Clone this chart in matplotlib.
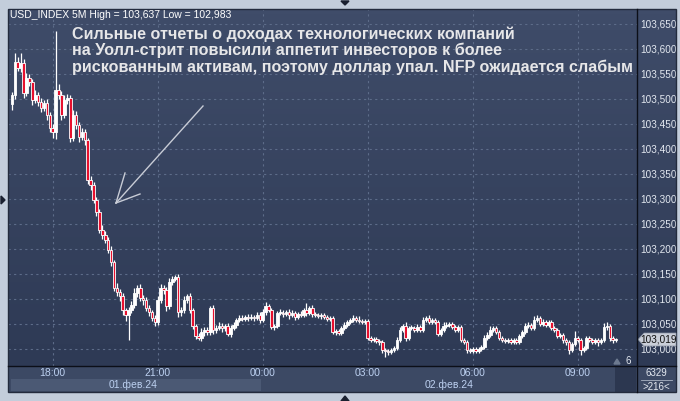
import matplotlib
matplotlib.use("Agg")
import matplotlib.pyplot as plt
from matplotlib.colors import LinearSegmentedColormap
from matplotlib.lines import Line2D
from matplotlib.patches import Polygon, Rectangle
import numpy as np
import pandas as pd

# USD_INDEX 5M closes, 01.02.24 16:50 -> 02.02.24 10:05
closes = [
    103.508, 103.575, 103.563, 103.572, 103.512, 103.543, 103.535, 103.499, 103.509, 103.495,
    103.483, 103.493, 103.469, 103.443, 103.435, 103.519, 103.509, 103.469, 103.499, 103.503,
    103.423, 103.469, 103.449, 103.425, 103.435, 103.419, 103.339, 103.329, 103.299, 103.275,
    103.239, 103.229, 103.219, 103.199, 103.175, 103.123, 103.115, 103.107, 103.079, 103.069,
    103.079, 103.089, 103.113, 103.123, 103.103, 103.099, 103.083, 103.075, 103.063, 103.055,
    103.099, 103.123, 103.119, 103.087, 103.135, 103.141, 103.145, 103.075, 103.079, 103.099,
    103.107, 103.079, 103.047, 103.027, 103.023, 103.035, 103.039, 103.035, 103.083, 103.039,
    103.043, 103.047, 103.043, 103.047, 103.031, 103.043, 103.049, 103.059, 103.063, 103.061,
    103.065, 103.063, 103.065, 103.063, 103.069, 103.059, 103.075, 103.087, 103.079, 103.045,
    103.047, 103.073, 103.073, 103.071, 103.075, 103.069, 103.073, 103.065, 103.071, 103.069,
    103.079, 103.073, 103.083, 103.071, 103.069, 103.067, 103.069, 103.065, 103.061, 103.063,
    103.035, 103.037, 103.033, 103.043, 103.049, 103.055, 103.059, 103.063, 103.059, 103.057,
    103.055, 103.057, 103.023, 103.019, 103.021, 103.017, 103.015, 102.999, 102.997, 102.995,
    102.999, 103.003, 103.019, 103.039, 103.047, 103.023, 103.043, 103.043, 103.039, 103.045,
    103.039, 103.059, 103.063, 103.055, 103.059, 103.055, 103.031, 103.039, 103.047, 103.049,
    103.051, 103.045, 103.039, 103.045, 103.019, 103.015, 102.999, 102.997, 103.001, 102.997,
    103.001, 103.005, 103.023, 103.029, 103.039, 103.043, 103.035, 103.023, 103.019, 103.017,
    103.019, 103.015, 103.019, 103.015, 103.027, 103.035, 103.047, 103.049, 103.043, 103.059,
    103.063, 103.051, 103.055, 103.049, 103.055, 103.043, 103.039, 103.027, 103.029, 103.019,
    103.015, 102.999, 103.011, 103.023, 103.019, 102.999, 103.003, 103.023, 103.019, 103.015,
    103.019, 103.015, 103.019, 103.045, 103.047, 103.023, 103.019, 103.019,
]
first_open = 103.490

# wick lengths in thousandths above / below the body
upper_wick = [
    6, 18, 10, 20, 8, 10, 8, 6, 10, 6,
    8, 6, 8, 6, 8, 118, 12, 8, 10, 8,
    6, 10, 8, 6, 8, 6, 4, 8, 6, 6,
    6, 10, 8, 6, 8, 4, 10, 6, 6, 4,
    6, 8, 10, 6, 8, 6, 6, 6, 4, 6,
    8, 8, 6, 6, 8, 6, 4, 6, 6, 8,
    4, 6, 4, 4, 6, 8, 6, 6, 4, 6,
    6, 8, 6, 4, 6, 6, 6, 4, 6, 6,
    4, 6, 6, 4, 6, 6, 6, 8, 4, 4,
    4, 4, 8, 6, 4, 6, 6, 4, 4, 6,
    4, 14, 4, 6, 4, 4, 4, 4, 4, 4,
    4, 4, 4, 4, 6, 4, 4, 6, 4, 8,
    4, 4, 4, 4, 4, 4, 4, 4, 4, 4,
    4, 4, 6, 6, 4, 8, 4, 6, 4, 6,
    4, 6, 4, 6, 4, 4, 4, 4, 8, 6,
    4, 4, 4, 4, 4, 4, 4, 4, 4, 4,
    4, 4, 6, 6, 8, 4, 4, 4, 4, 4,
    4, 4, 4, 4, 4, 4, 6, 6, 4, 8,
    6, 4, 6, 4, 4, 4, 4, 4, 4, 4,
    4, 4, 4, 14, 4, 4, 4, 4, 4, 4,
    4, 4, 4, 8, 8, 4, 4, 4,
]
lower_wick = [
    11, 8, 6, 8, 10, 6, 8, 10, 6, 8,
    8, 6, 10, 8, 12, 15, 8, 10, 6, 8,
    8, 6, 8, 10, 6, 10, 8, 10, 6, 8,
    6, 8, 6, 6, 8, 6, 8, 10, 10, 12,
    50, 6, 6, 8, 6, 10, 6, 8, 6, 8,
    6, 6, 8, 10, 6, 6, 4, 10, 8, 6,
    6, 6, 6, 6, 4, 6, 8, 6, 6, 8,
    6, 4, 8, 6, 4, 6, 4, 6, 4, 4,
    4, 6, 4, 6, 4, 6, 4, 6, 4, 4,
    6, 4, 4, 6, 4, 8, 4, 6, 4, 4,
    4, 6, 4, 6, 4, 4, 6, 4, 4, 4,
    4, 6, 4, 4, 4, 4, 4, 4, 4, 4,
    4, 4, 4, 4, 4, 4, 6, 6, 12, 6,
    4, 4, 4, 4, 4, 6, 4, 4, 4, 4,
    4, 4, 4, 4, 4, 4, 4, 4, 4, 4,
    4, 4, 4, 4, 4, 4, 6, 4, 4, 4,
    4, 4, 4, 4, 4, 4, 4, 4, 4, 4,
    4, 4, 4, 4, 4, 4, 4, 4, 4, 4,
    4, 4, 4, 4, 4, 4, 4, 4, 4, 6,
    6, 8, 4, 4, 4, 10, 4, 4, 4, 4,
    4, 8, 4, 4, 6, 6, 6, 4,
]

price_ticks = [103.000, 103.050, 103.100, 103.150, 103.200, 103.250, 103.300,
               103.350, 103.400, 103.450, 103.500, 103.550, 103.600, 103.650]
title = "USD_INDEX 5M High = 103,637 Low = 102,983"
note = ("Сильные отчеты о доходах технологических компаний\n"
        "на Уолл-стрит повысили аппетит инвесторов к более\n"
        "рискованным активам, поэтому доллар упал. NFP ожидается слабым")
last_price = "103,019"

W, H = 680, 401
plt.rcParams['font.family'] = ['Liberation Sans', 'DejaVu Sans']


def fx(x):
    return x / W


def fy(y):
    return 1 - y / H


closes = np.array(closes)
opens = np.concatenate([[first_open], closes[:-1]])
top = np.maximum(opens, closes)
bot = np.minimum(opens, closes)
highs = top + np.array(upper_wick) / 1000
lows = bot - np.array(lower_wick) / 1000
n = len(closes)
times = pd.date_range("2024-02-01 16:50", periods=n, freq="5min")
idx = np.arange(n)

# pixel geometry of the panes
px_left, px_right, px_top, px_bottom = 8, 637, 8.5, 366
bar_px = 105 / 36
x0_px = 11.9
xlim = ((px_left - x0_px) / bar_px, (px_right - x0_px) / bar_px)
ylim = (103.0 + (349.3 - px_bottom) * 0.002, 103.0 + (349.3 - px_top) * 0.002)

fig = plt.figure(figsize=(6.8, 4.01), dpi=100)
fig.patch.set_facecolor("#c3cddb")

grad = LinearSegmentedColormap.from_list("bg", ["#2e3a55", "#3f4c69"])


def pane(l, t, r, b, gradient=True, color=None):
    a = fig.add_axes([fx(l), fy(b), fx(r) - fx(l), fy(t) - fy(b)])
    if gradient:
        a.imshow(np.linspace(0, 1, 64).reshape(-1, 1), extent=(0, 1, 0, 1),
                 cmap=grad, aspect="auto", origin="lower")
    else:
        a.set_facecolor(color)
    a.set_xlim(0, 1)
    a.set_ylim(0, 1)
    a.set_xticks([])
    a.set_yticks([])
    for s in a.spines.values():
        s.set_visible(False)
    return a


# backgrounds
pane(px_left, px_top, px_right, px_bottom)
pane(px_right, px_top, 676, px_bottom)
tax = pane(px_left, px_bottom, px_right, 392, gradient=False, color="#3c4964")
pane(px_right, px_bottom, 676, 392, gradient=False, color="#3c4964")

# main candle axes
ax = fig.add_axes([fx(px_left), fy(px_bottom), fx(px_right) - fx(px_left), fy(px_top) - fy(px_bottom)])
ax.patch.set_alpha(0)
ax.set_xlim(*xlim)
ax.set_ylim(*ylim)
for s in ax.spines.values():
    s.set_visible(False)
ax.set_xticks([])
ax.set_yticks([])

grid_kw = dict(color="#5d6c89", lw=0.8, dashes=(2, 3), zorder=1)
for p in price_ticks:
    ax.axhline(p, **grid_kw)
tick_idx = [i for i, t in enumerate(times) if t.minute == 0 and t.hour % 3 == 0]
for i in tick_idx:
    ax.axvline(i, **grid_kw)

ax.vlines(idx, lows, highs, color="white", lw=0.9, zorder=2)
body_col = np.where(closes < opens, "#e8102e", "white")
ax.bar(idx, np.maximum(top - bot, 0.002), bottom=bot, width=0.9,
       color=body_col, edgecolor="white", linewidth=0.6, zorder=3)

# price axis labels
yax = fig.add_axes([fx(px_right), fy(px_bottom), fx(676) - fx(px_right), fy(px_top) - fy(px_bottom)])
yax.patch.set_alpha(0)
yax.set_ylim(*ylim)
yax.set_xlim(0, 1)
yax.axis("off")
for p in price_ticks:
    yax.text(0.08, p, f"{p:.3f}".replace(".", ","), color="#e3e8f0", fontsize=7.2,
             va="center", ha="left")

# time axis labels
tax.set_xlim(*xlim)
for i in tick_idx:
    tax.text(i, 0.72, times[i].strftime("%H:%M"), color="#bcd0f0", fontsize=7.5,
             ha="center", va="center")
tax.add_patch(Rectangle((xlim[0] + 1, 0.02), (261 - 11) / bar_px, 0.48,
                        color="#4b5974", lw=0))
tax.text((133 - x0_px) / bar_px, 0.26, "01.фев.24", color="#bcd0f0", fontsize=7.5,
         ha="center", va="center")
tax.text((449 - x0_px) / bar_px, 0.26, "02.фев.24", color="#bcd0f0", fontsize=7.5,
         ha="center", va="center")
tax.add_patch(Rectangle(((615 - x0_px) / bar_px, 0.0), 21 / bar_px, 1.0,
                        color="#2c3750", lw=0))

# separators and frame
fig.add_artist(Line2D([fx(px_right)] * 2, [fy(px_top), fy(392)], color="#0c0f18", lw=1))
fig.add_artist(Line2D([fx(px_left), fx(676)], [fy(px_bottom)] * 2, color="#0c0f18", lw=1))
fig.add_artist(Rectangle((fx(px_left), fy(392)), fx(676) - fx(px_left), fy(px_top) - fy(392),
                         fill=False, edgecolor="#232b3d", lw=1))

# bottom right counters
fig.text(fx(656), fy(373.5), "6329", color="#e3e8f0", fontsize=7, ha="center", va="center")
fig.add_artist(Line2D([fx(641), fx(672)], [fy(380)] * 2, color="#aab4c4", lw=0.6))
fig.text(fx(656), fy(386.5), ">216<", color="#e3e8f0", fontsize=7, ha="center", va="center")
fig.text(fx(628), fy(361), "6", color="#e3e8f0", fontsize=7, ha="center", va="center")
fig.add_artist(Polygon([(fx(614), fy(364)), (fx(620), fy(364)), (fx(617), fy(359))],
                       closed=True, color="#6d7a90"))

# last price tag
fig.add_artist(Polygon([(fx(638), fy(339.5)), (fx(644), fy(333)), (fx(676), fy(333)),
                        (fx(676), fy(346)), (fx(644), fy(346))],
                       closed=True, facecolor="#c9ced8", edgecolor="#8a93a3", lw=0.5))
fig.text(fx(659), fy(339.5), last_price, color="#111111", fontsize=7.2, ha="center", va="center")

# small frame markers
fig.add_artist(Polygon([(fx(341), fy(1)), (fx(349), fy(1)), (fx(345), fy(5))], closed=True, color="#1a2030"))
fig.add_artist(Polygon([(fx(341), fy(401)), (fx(349), fy(401)), (fx(345), fy(396))], closed=True, color="#1a2030"))
fig.add_artist(Polygon([(fx(1), fy(196)), (fx(1), fy(204)), (fx(5), fy(200))], closed=True, color="#1a2030"))

# title and annotation
fig.text(fx(10), fy(15), title, color="white", fontsize=7.5, ha="left", va="center")
fig.text(fx(72), fy(26), note, color="#e6e6e8", fontsize=11.6, fontweight="bold",
         ha="left", va="top", linespacing=1.12)

arrow_col = "#c8ccd6"
fig.add_artist(Line2D([fx(203), fx(116)], [fy(106), fy(203)], color=arrow_col, lw=1))
fig.add_artist(Line2D([fx(116), fx(125)], [fy(203), fy(173)], color=arrow_col, lw=1))
fig.add_artist(Line2D([fx(116), fx(140)], [fy(203), fy(194)], color=arrow_col, lw=1))

fig.savefig("out.png", dpi=100, facecolor=fig.get_facecolor())
